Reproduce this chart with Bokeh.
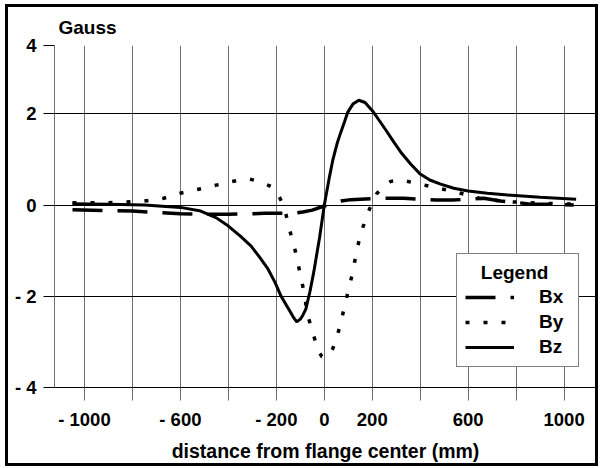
from bokeh.plotting import figure
from bokeh.models import Range1d, FixedTicker, Legend, LegendItem
from bokeh.embed import file_html
from bokeh.resources import INLINE

# ---- data ----
bx_pos = [-1050, -900, -800, -700, -600, -500, -400, -300, -250, -130, -90, -50, 0,
          35, 70, 110, 150, 200, 270, 330, 400, 465, 535, 600, 665, 735, 800, 860, 930, 1040]
bx_val = [-0.10, -0.12, -0.13, -0.16, -0.19, -0.20, -0.20, -0.19, -0.18, -0.18, -0.15, -0.11, -0.02,
          0.04, 0.09, 0.12, 0.13, 0.14, 0.15, 0.15, 0.13, 0.11, 0.11, 0.13, 0.15, 0.09, 0.06, 0.02, 0.02, 0.0]

by_pos = [-1050, -900, -750, -670, -600, -540, -480, -400, -350, -310, -260, -220, -195, -175,
          -160, -148, -135, -123, -105, -85, -70, -45, -25, -10, 5, 20, 35, 50, 70, 90, 115,
          130, 150, 170, 185, 200, 220, 250, 277, 320, 400, 475, 555, 645, 750, 900, 1050]
by_val = [0.05, 0.05, 0.09, 0.15, 0.26, 0.33, 0.40, 0.50, 0.55, 0.57, 0.50, 0.40, 0.25, 0.05,
          -0.20, -0.48, -0.72, -0.96, -1.40, -1.90, -2.40, -2.85, -3.20, -3.32, -3.35, -3.28, -3.15,
          -2.95, -2.55, -2.10, -1.55, -1.15, -0.65, -0.35, -0.13, 0.05, 0.26, 0.42, 0.52, 0.55,
          0.46, 0.37, 0.28, 0.15, 0.08, 0.04, 0.02]

bz_pos = [-1050, -900, -750, -600, -515, -450, -400, -350, -305, -270, -235, -205, -180, -150,
          -130, -115, -100, -90, -77, -60, -44, -20, 0, 20, 36, 55, 69, 85, 98, 120, 144, 170,
          202, 230, 260, 290, 319, 360, 400, 440, 485, 540, 600, 680, 765, 900, 1050]
bz_val = [0.03, 0.02, 0.00, -0.05, -0.13, -0.28, -0.46, -0.68, -0.90, -1.14, -1.40, -1.70, -2.00,
          -2.27, -2.45, -2.56, -2.50, -2.42, -2.28, -1.90, -1.47, -0.72, 0.00, 0.58, 1.00, 1.38,
          1.60, 1.84, 2.04, 2.22, 2.30, 2.25, 2.06, 1.85, 1.62, 1.38, 1.16, 0.90, 0.68, 0.55,
          0.46, 0.37, 0.31, 0.26, 0.22, 0.17, 0.13]

series_names = ["Bx", "By", "Bz"]

x_tick_values = [-1000, -800, -600, -400, -200, 0, 200, 400, 600, 800, 1000]
x_tick_labels = ["- 1000", "", "- 600", "", "- 200", "0", "200", "", "600", "", "1000"]
y_tick_values = [-4, -2, 0, 2, 3.5]
y_tick_labels = ["- 4", "- 2", "0", "2", "4"]

FONT = "Liberation Sans"
GRAY = "#707070"
NB = "\u00a0"

p = figure(width=601, height=468,
           x_range=Range1d(-1125, 1135), y_range=Range1d(-4, 3.5),
           output_backend="svg", toolbar_location=None,
           min_border_left=54, min_border_right=5, min_border_top=45, min_border_bottom=81)

# transparent canvas so the page-level frame (CSS background) shows through
p.background_fill_alpha = 0
p.border_fill_alpha = 0
p.outline_line_color = None
_bar = "linear-gradient(#000,#000)"
p.styles = {
    "background": ", ".join([
        f"{_bar} 5px 4px / 3px 462px no-repeat",
        f"{_bar} 5px 4px / 593px 3px no-repeat",
        f"{_bar} 595px 4px / 3px 462px no-repeat",
        f"{_bar} 5px 463px / 593px 3px no-repeat",
        "#ffffff",
    ]),
}

# title
p.title.text = "Gauss"
p.title.align = "left"
p.title.offset = 4
p.title.standoff = 15
p.title.text_font = FONT
p.title.text_font_size = "19px"
p.title.text_font_style = "bold"
p.title.text_color = "black"

# x axis
xa = p.xaxis[0]
xa.ticker = FixedTicker(ticks=x_tick_values)
xa.major_label_overrides = dict(zip(x_tick_values, x_tick_labels))
xa.major_tick_out = 13
xa.major_tick_in = 0
xa.minor_tick_line_color = None
xa.major_tick_line_color = GRAY
xa.axis_line_color = "black"
xa.major_label_standoff = 8
xa.major_label_text_font = FONT
xa.major_label_text_font_size = "18.5px"
xa.major_label_text_font_style = "bold"
xa.major_label_text_color = "black"
xa.axis_label = "distance from flange center (mm)"
xa.axis_label_standoff = 7
xa.axis_label_text_font = FONT
xa.axis_label_text_font_size = "19.5px"
xa.axis_label_text_font_style = "bold"
xa.axis_label_text_color = "black"

# y axis
ya = p.yaxis[0]
ya.ticker = FixedTicker(ticks=y_tick_values)
ya.major_label_overrides = dict(zip(y_tick_values, y_tick_labels))
ya.major_tick_out = 11
ya.major_tick_in = 0
ya.minor_tick_line_color = None
ya.major_tick_line_color = "black"
ya.axis_line_color = GRAY
ya.major_label_standoff = 7
ya.major_label_text_font = FONT
ya.major_label_text_font_size = "18.5px"
ya.major_label_text_font_style = "bold"
ya.major_label_text_color = "black"

# grids
p.xgrid.ticker = FixedTicker(ticks=x_tick_values)
p.xgrid.grid_line_color = GRAY
p.xgrid.grid_line_width = 1
p.ygrid.ticker = FixedTicker(ticks=[v for v in y_tick_values if v != -4])
p.ygrid.grid_line_color = "black"
p.ygrid.grid_line_width = 1

# series
r_bx = p.line(bx_pos, bx_val, line_color="black", line_width=3.5, line_dash="30 15")
r_by = p.line(by_pos, by_val, line_color="black", line_width=3.5, line_dash="4 14")
r_bz = p.line(bz_pos, bz_val, line_color="black", line_width=3)

legend = Legend(
    items=[LegendItem(label=series_names[0], renderers=[r_bx]),
           LegendItem(label=series_names[1], renderers=[r_by]),
           LegendItem(label=series_names[2], renderers=[r_bz])],
    location=(402, 20),
    title=NB * 3 + "Legend" + NB * 4,
    title_text_font=FONT, title_text_font_size="19px", title_text_font_style="bold",
    title_text_color="black", title_standoff=2,
    label_text_font=FONT, label_text_font_size="19px", label_text_font_style="bold",
    label_text_color="black",
    glyph_width=49, glyph_height=22, label_height=22, label_standoff=25,
    spacing=3, padding=8, margin=0,
    border_line_color="black", border_line_width=1,
    background_fill_color="white", background_fill_alpha=1,
)
p.add_layout(legend)

open("out.html", "w").write(file_html(p, INLINE))
